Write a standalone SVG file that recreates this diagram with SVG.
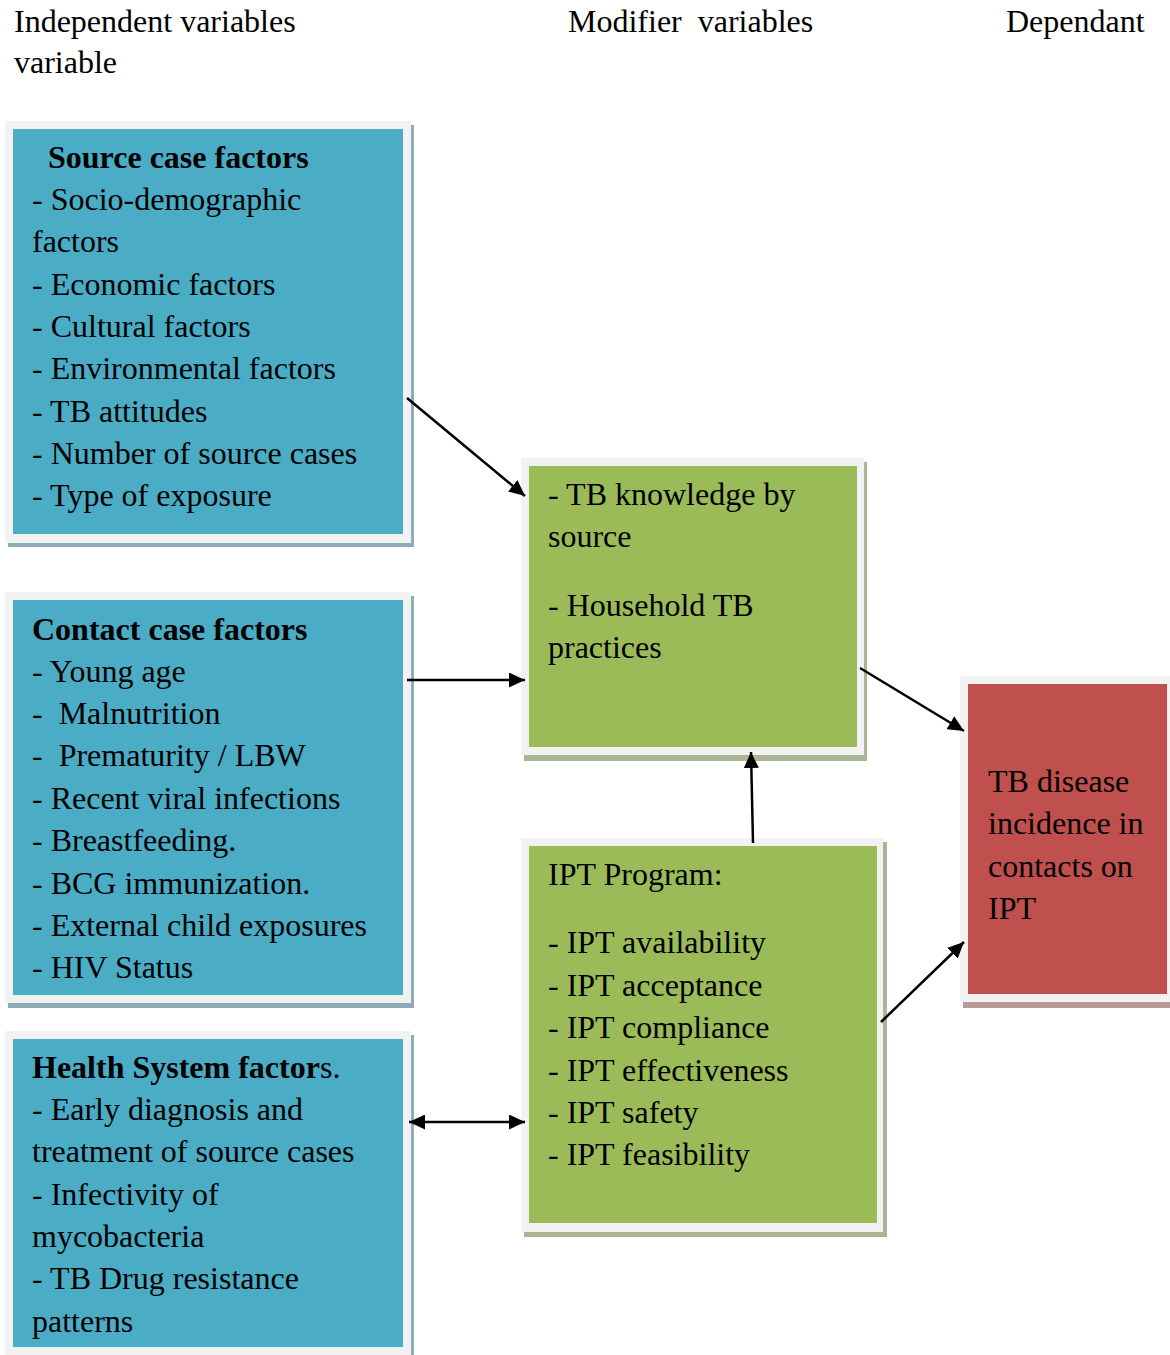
<svg xmlns="http://www.w3.org/2000/svg" width="1170" height="1355" viewBox="0 0 1170 1355">
<style>
text{font-family:"Liberation Serif","Times New Roman",serif;font-size:32px;fill:#000;white-space:pre}
.b{font-weight:bold}
.frame{fill:#f2f2f2}
.blue{fill:#4bacc6}
.blueS{fill:#8eabb7}
.green{fill:#9bbb59}
.greenS{fill:#a9b595}
.red{fill:#c0504d}
.redS{fill:#b99a9a}
.conn{stroke:#000;stroke-width:2.5;fill:none}
</style>
<defs>
<marker id="ah" markerUnits="userSpaceOnUse" markerWidth="16" markerHeight="15" refX="16" refY="7.5" orient="auto-start-reverse">
<path d="M0,0 L16,7.5 L0,15 z" fill="#000"/>
</marker>
</defs>
<rect width="1170" height="1355" fill="#fff"/>
<g id="headers">
<text x="14" y="32">Independent variables</text>
<text x="14" y="73">variable</text>
<text x="568" y="32">Modifier  variables</text>
<text x="1006" y="32">Dependant</text>
</g>
<g id="source-case">
<rect class="blueS" x="8" y="125" width="406" height="422"/>
<rect class="frame" x="5" y="121" width="406" height="422"/>
<rect class="blue" x="13" y="129" width="390" height="405"/>
<text class="b" x="48" y="168">Source case factors</text>
<text x="32" y="210">- Socio-demographic</text>
<text x="32" y="252">factors</text>
<text x="32" y="295">- Economic factors</text>
<text x="32" y="337">- Cultural factors</text>
<text x="32" y="379">- Environmental factors</text>
<text x="32" y="422">- TB attitudes</text>
<text x="32" y="464">- Number of source cases</text>
<text x="32" y="506">- Type of exposure</text>
</g>
<g id="contact-case">
<rect class="blueS" x="8" y="596" width="406" height="412"/>
<rect class="frame" x="5" y="592" width="406" height="411"/>
<rect class="blue" x="13" y="600" width="390" height="395"/>
<text class="b" x="32" y="640">Contact case factors</text>
<text x="32" y="682">- Young age</text>
<text x="32" y="724">-  Malnutrition</text>
<text x="32" y="766">-  Prematurity / LBW</text>
<text x="32" y="809">- Recent viral infections</text>
<text x="32" y="851">- Breastfeeding.</text>
<text x="32" y="894">- BCG immunization.</text>
<text x="32" y="936">- External child exposures</text>
<text x="32" y="978">- HIV Status</text>
</g>
<g id="health-system">
<rect class="blueS" x="8" y="1035" width="406" height="330"/>
<rect class="frame" x="5" y="1031" width="406" height="330"/>
<rect class="blue" x="13" y="1039" width="390" height="308"/>
<text x="32" y="1078"><tspan class="b">Health System factor</tspan>s.</text>
<text x="32" y="1120">- Early diagnosis and</text>
<text x="32" y="1162">treatment of source cases</text>
<text x="32" y="1205">- Infectivity of</text>
<text x="32" y="1247">mycobacteria</text>
<text x="32" y="1289">- TB Drug resistance</text>
<text x="32" y="1332">patterns</text>
</g>
<g id="tb-knowledge">
<rect class="greenS" x="524" y="462" width="343" height="299"/>
<rect class="frame" x="521" y="458" width="343" height="297"/>
<rect class="green" x="529" y="466" width="328" height="281"/>
<text x="548" y="505">- TB knowledge by</text>
<text x="548" y="547">source</text>
<text x="548" y="616">- Household TB</text>
<text x="548" y="658">practices</text>
</g>
<g id="ipt-program">
<rect class="greenS" x="524" y="842" width="363" height="395"/>
<rect class="frame" x="521" y="838" width="362" height="394"/>
<rect class="green" x="529" y="846" width="348" height="377"/>
<text x="548" y="885">IPT Program:</text>
<text x="548" y="953">- IPT availability</text>
<text x="548" y="996">- IPT acceptance</text>
<text x="548" y="1038">- IPT compliance</text>
<text x="548" y="1081">- IPT effectiveness</text>
<text x="548" y="1123">- IPT safety</text>
<text x="548" y="1165">- IPT feasibility</text>
</g>
<g id="tb-incidence">
<rect class="redS" x="963" y="680" width="214" height="328"/>
<rect class="frame" x="960" y="676" width="214" height="326"/>
<rect class="red" x="968" y="684" width="199" height="310"/>
<text x="988" y="792">TB disease</text>
<text x="988" y="834">incidence in</text>
<text x="988" y="877">contacts on</text>
<text x="988" y="919">IPT</text>
</g>
<g id="connectors">
<line class="conn" x1="407" y1="398" x2="525" y2="496" marker-end="url(#ah)"/>
<line class="conn" x1="407" y1="680" x2="525" y2="680" marker-end="url(#ah)"/>
<line class="conn" x1="860" y1="668" x2="964" y2="731" marker-end="url(#ah)"/>
<line class="conn" x1="753" y1="843" x2="751" y2="752" marker-end="url(#ah)"/>
<line class="conn" x1="881" y1="1022" x2="964" y2="942" marker-end="url(#ah)"/>
<line class="conn" x1="409" y1="1122" x2="525" y2="1122" marker-start="url(#ah)" marker-end="url(#ah)"/>
</g>
</svg>
